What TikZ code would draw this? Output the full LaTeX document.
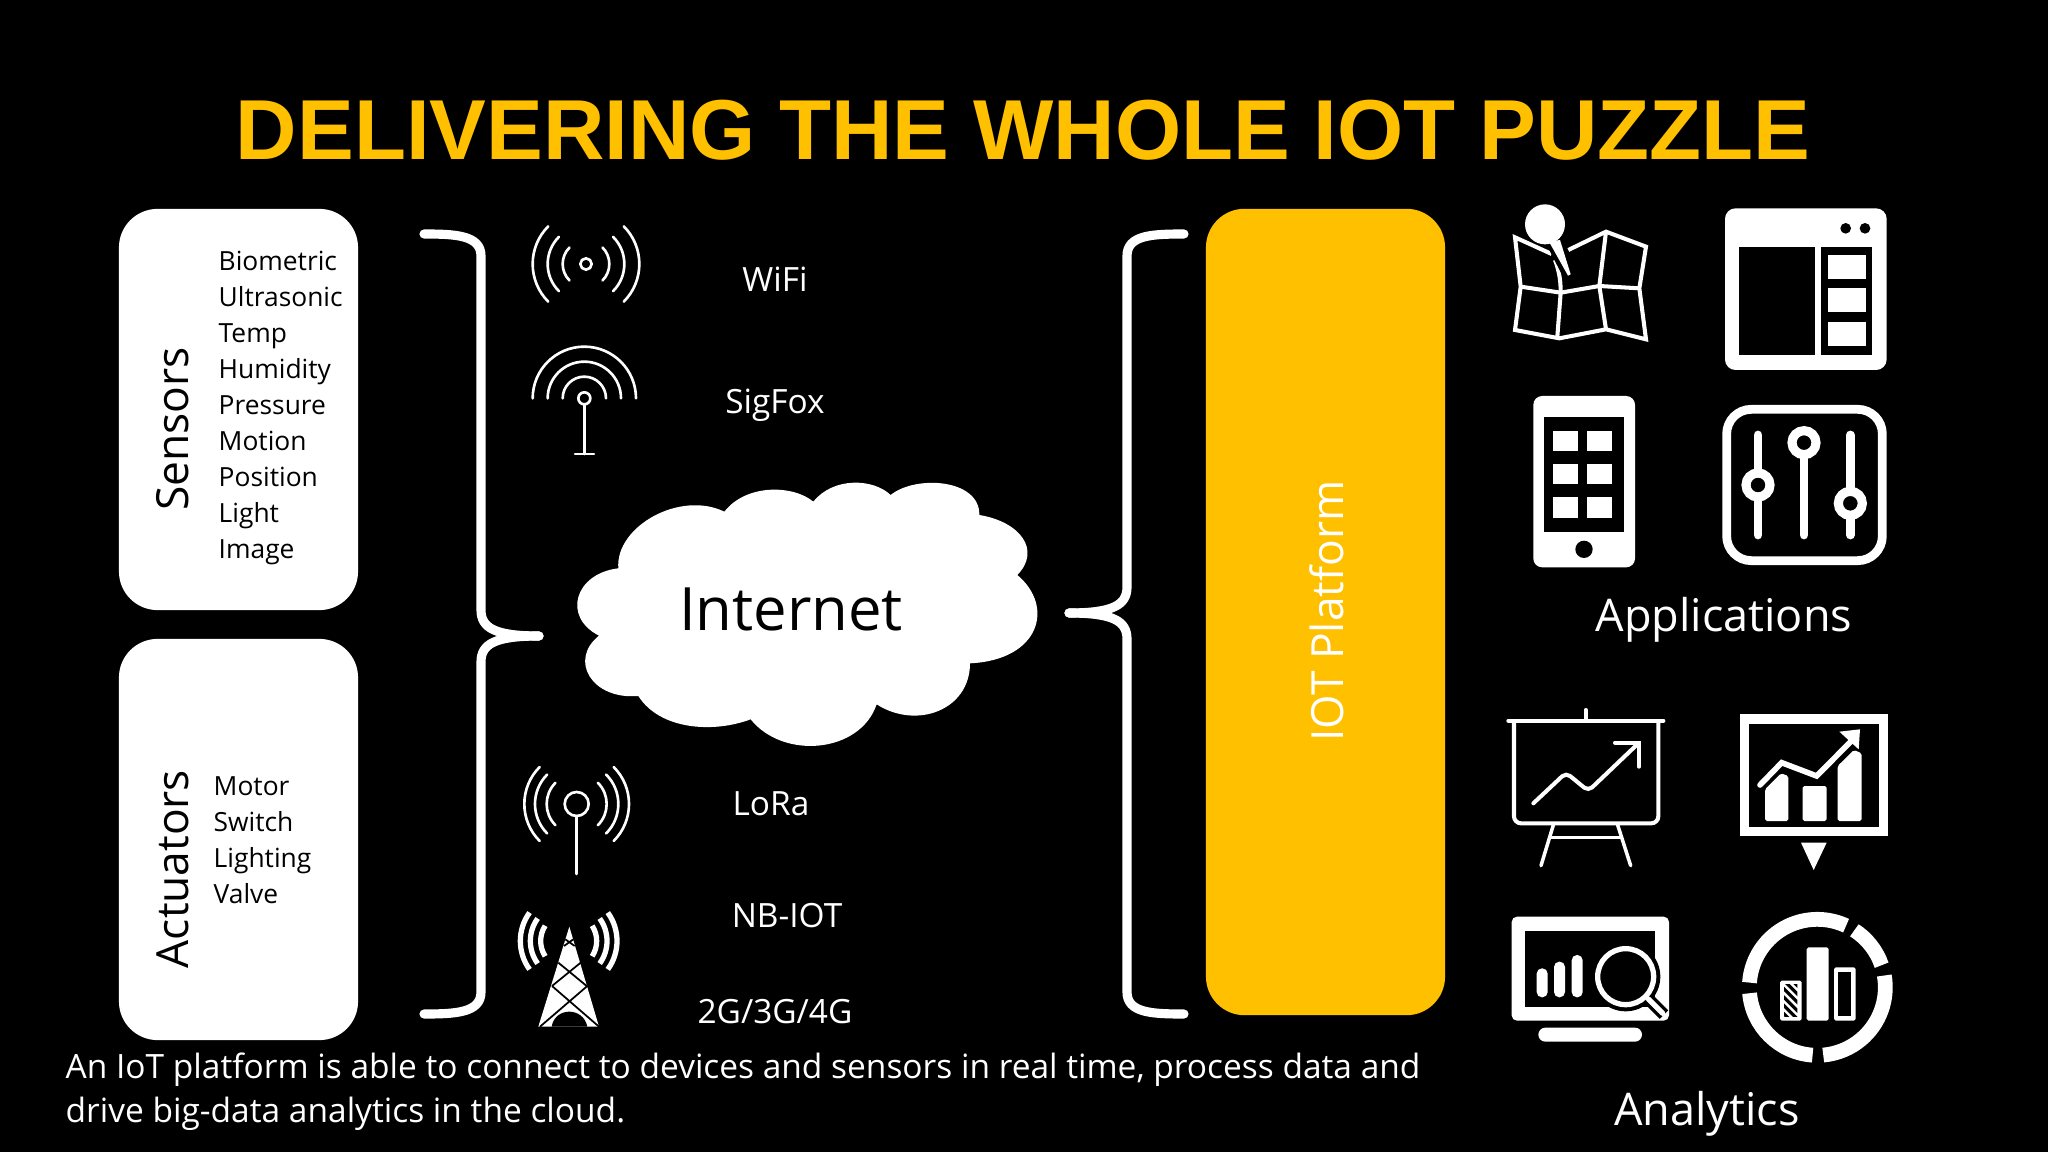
\documentclass[tikz,border=0pt]{standalone}
\usepackage{fontspec}
\setmainfont{Open Sans}
\setsansfont{Liberation Sans}
\usetikzlibrary{positioning}
\definecolor{iotyellow}{HTML}{FFC000}
\tikzstyle{label} = [white,inner sep=0pt,font=\fontsize{9.5}{10}\selectfont]
\tikzstyle{heading} = [white,inner sep=0pt,font=\fontsize{12.8}{14}\selectfont]
\tikzstyle{listing} = [black,inner sep=0pt,align=left,anchor=north west,font=\fontsize{7.5}{10.25}\selectfont]
\tikzstyle{sideways} = [black,inner sep=0pt,rotate=90,font=\fontsize{12.6}{14}\selectfont]
\tikzstyle{block} = [fill=white,rounded corners=11pt,minimum width=2.39cm,minimum height=4.01cm,inner sep=0pt]
\tikzstyle{brace} = [white,line width=2.6pt,line cap=round]
\tikzstyle{thinline} = [white,line width=.75pt,line cap=round]
\tikzstyle{mapline} = [white,line width=1.15pt,line join=miter]
\tikzstyle{upper} = [shift={(1480,180)},scale=1/3]
\tikzstyle{lower} = [shift={(1480,690)},scale=1/3]
\begin{document}
\begin{tikzpicture}[x=.01cm,y=-.01cm]
    \useasboundingbox (0,0) rectangle (2048,1152);
    \fill[black] (0,0) rectangle (2048,1152);

    \node (title)[anchor=base,iotyellow,inner sep=0pt,font=\fontsize{24.2}{26}\selectfont\sffamily\bfseries] at (1023,159.5) {DELIVERING THE WHOLE IOT PUZZLE};

    \node (sensors)[block] at (238.5,409.5) {};
    \node (actuators)[block] at (238.5,839.5) {};
    \node (platform)[block,fill=iotyellow,minimum height=8.06cm] at (1325.5,612) {};

    \node (sensorsname)[sideways] at (173,429) {Sensors};
    \node (actuatorsname)[sideways] at (173,869) {Actuators};
    \node (platformname)[sideways,white] at (1327,611) {IOT Platform};
    \node (sensorlist)[listing] at (218,250) {Biometric\\Ultrasonic\\Temp\\Humidity\\Pressure\\Motion\\Position\\Light\\Image};
    \node (actuatorlist)[listing] at (213,776) {Motor\\Switch\\Lighting\\Valve};

    \coordinate (ltop) at (424,234);
    \coordinate (lbot) at (424,1014);
    \coordinate (ltip) at (539,636);
    \coordinate (rtop) at (1184,234);
    \coordinate (rbot) at (1184,1014);
    \coordinate (rtip) at (1069,613);
    \draw[brace] (ltop) .. controls (455,234) and (481,235) .. (481,256) -- (481,610) .. controls (481,628) and (495,636) .. (ltip);
    \draw[brace] (lbot) .. controls (455,1014) and (481,1013) .. (481,992) -- (481,662) .. controls (481,644) and (495,636) .. (ltip);
    \draw[brace] (rtop) .. controls (1152,234) and (1127,235) .. (1127,256) -- (1127,587) .. controls (1127,605) and (1113,613) .. (rtip);
    \draw[brace] (rbot) .. controls (1152,1014) and (1127,1013) .. (1127,992) -- (1127,639) .. controls (1127,621) and (1113,613) .. (rtip);

    \node (wifi)[label] at (775,279) {WiFi};
    \node (sigfox)[label] at (775,405) {SigFox};
    \node (lora)[label] at (771,804) {LoRa};
    \node (nbiot)[label] at (787,916) {NB-IOT};
    \node (cellular)[label] at (775,1012) {2G/3G/4G};

    \begin{scope}[shift={(540,460)},scale=1/3]
        \fill[white] (235,325) .. controls (225,200) and (420,90) .. (553,155)
            .. controls (620,70) and (760,75) .. (820,125)
            .. controls (880,50) and (1000,55) .. (1052,105)
            .. controls (1125,45) and (1320,55) .. (1318,165)
            .. controls (1440,185) and (1505,270) .. (1432,345)
            .. controls (1545,440) and (1500,600) .. (1290,610)
            .. controls (1290,750) and (1130,810) .. (1010,733)
            .. controls (960,880) and (730,900) .. (632,778)
            .. controls (520,820) and (360,810) .. (295,708)
            .. controls (155,720) and (85,600) .. (177,527)
            .. controls (65,470) and (105,340) .. (235,325) -- cycle;
    \end{scope}
    \node (internet)[inner sep=0pt,black,font=\fontsize{17}{20}\selectfont] at (791,609) {Internet};

    \begin{scope}[shift={(500,200)},scale=1/3]
        \draw[thinline] (258,192) circle[radius=17];
        \foreach \r in {70,115,160} {
            \draw[thinline] ({258-\r*cos(45)},{192-\r*sin(45)}) arc[start angle=-135,end angle=-225,radius=\r];
            \draw[thinline] ({258+\r*cos(45)},{192-\r*sin(45)}) arc[start angle=-45,end angle=45,radius=\r];
        }
        \draw[thinline] (253,595) circle[radius=18];
        \foreach \r in {65,110,155} {
            \draw[thinline] ({253-\r},595) arc[start angle=180,end angle=360,radius=\r];
        }
        \draw[thinline] (253,613) -- (253,762);
        \draw[thinline] (225,762) -- (282,762);
    \end{scope}

    \begin{scope}[shift={(490,740)},scale=1/3]
        \draw[thinline] (260,192) circle[radius=36];
        \draw[thinline] (260,228) -- (260,402);
        \foreach \r in {90,125,157} {
            \draw[thinline] ({260-\r*cos(45)},{192-\r*sin(45)}) arc[start angle=-135,end angle=-225,radius=\r];
            \draw[thinline] ({260+\r*cos(45)},{192-\r*sin(45)}) arc[start angle=-45,end angle=45,radius=\r];
        }
        \fill[white] (238,560) -- (327,860) -- (145,860) -- cycle;
        \fill[black] (185,860) .. controls (195,800) and (280,800) .. (292,860) -- cycle;
        \draw[black,line width=.5pt] (150,860) -- (292,738) (327,860) -- (186,738)
            (186,738) -- (272,668) (290,738) -- (205,668)
            (222,618) -- (250,598) (254,618) -- (226,598);
        \foreach \r/\a in {84/33,115/36,145/36} {
            \draw[white,line width=1.5pt] ({236-\r*cos(\a)},{603-\r*sin(\a)}) arc[start angle=-180+\a,end angle=-180-\a,radius=\r];
            \draw[white,line width=1.5pt] ({236+\r*cos(\a)},{603-\r*sin(\a)}) arc[start angle=-\a,end angle=\a,radius=\r];
        }
    \end{scope}

    \begin{scope}[upper]
        \draw[mapline] (215,222) -- (105,172) -- (122,320) -- (105,450) -- (238,475) -- (378,448) -- (498,478) -- (478,325) -- (498,200) -- (378,155) -- (265,210);
        \draw[mapline] (122,320) -- (242,338) -- (358,318) -- (478,325);
        \draw[mapline] (378,155) -- (358,318) -- (378,448);
        \draw[mapline] (225,240) .. controls (240,280) and (242,310) .. (242,338) -- (232,470);
        \fill[black] (200,195) -- (248,180) -- (282,290) -- (250,292) -- cycle;
        \fill[white] (195,133) circle[radius=60];
        \fill[white] (207,185) -- (240,180) -- (272,283) -- (264,287) -- cycle;

        \fill[white,rounded corners=3pt] (735,85) rectangle (1220,570);
        \foreach \x in {1097,1155} \fill[black] (\x,145) circle[radius=16];
        \fill[black] (778,202) rectangle (1006,526);
        \fill[black] (1023,202) rectangle (1176,526);
        \foreach \y in {225,325,427} \fill[white] (1043,\y) rectangle (1158,\y+72);

        \fill[white,rounded corners=2.5pt] (160,648) rectangle (465,1162);
        \fill[black] (192,711) rectangle (433,1055);
        \foreach \x in {219,321} \foreach \y in {752,851,952} \fill[white] (\x,\y) rectangle (\x+76,\y+61);
        \fill[black] (312,1108) circle[radius=26];

        \draw[white,line width=2.5pt,rounded corners=7pt] (740,688) rectangle (1207,1142);
        \foreach \x/\k in {834/915,972/788,1111/970} {
            \draw[white,line width=2.5pt,line cap=round] (\x,765) -- (\x,1065);
            \fill[black] (\x,\k) circle[radius=36];
            \draw[white,line width=2.6pt] (\x,\k) circle[radius=36];
        }
    \end{scope}

    \node (applications)[heading] at (1724,620) {Applications};

    \begin{scope}[lower]
        \draw[white,line width=1.15pt,line cap=round] (85,92) -- (550,92);
        \draw[white,line width=1.15pt,line cap=round] (317,60) -- (317,92);
        \draw[white,line width=1.15pt,rounded corners=2pt] (102,92) -- (102,400) -- (535,400) -- (535,92);
        \draw[white,line width=1pt,line cap=round] (220,405) -- (183,527) (413,405) -- (452,527);
        \draw[white,line width=1pt] (213,443) -- (420,443);
        \draw[white,line width=1.15pt,line cap=round,rounded corners=1.5pt] (160,340) -- (258,248) -- (325,303) -- (475,160);
        \draw[white,line width=1.15pt,line cap=round] (405,158) -- (477,158) -- (477,230);

        \fill[white] (780,73) rectangle (1225,438);
        \fill[black] (808,102) rectangle (1197,410);
        \fill[white,rounded corners=.5pt] (855,393) -- (855,298) -- (903,250) -- (925,258) -- (925,393) -- cycle;
        \fill[white,rounded corners=.5pt] (968,288) rectangle (1040,393);
        \fill[white,rounded corners=.5pt] (1073,393) -- (1073,228) -- (1122,180) -- (1145,190) -- (1145,393) -- cycle;
        \draw[white,line width=1.6pt,line cap=round,line join=miter] (840,285) -- (905,218) -- (1010,258) -- (1112,155);
        \fill[white] (1078,125) -- (1140,118) -- (1136,178) -- cycle;
        \fill[white] (963,458) -- (1040,458) -- (1001,540) -- cycle;

        \fill[white,rounded corners=1.5pt] (95,680) rectangle (567,992);
        \fill[black] (136,723) rectangle (525,950);
        \fill[white,rounded corners=2pt] (175,1013) rectangle (486,1055);
        \foreach \x/\t in {170/835,222/815,275/795} \fill[white,rounded corners=1.5pt] (\x,\t) rectangle (\x+33,922);
        \fill[black] (437,860) circle[radius=104];
        \draw[black,line width=3.4pt] (505,927) -- (552,974);
        \draw[white,line width=1.5pt] (437,860) circle[radius=84];
        \draw[white,line width=1.5pt,line cap=round] (505,927) -- (548,970);

        \foreach \a/\b in {176/65,57/19,10/-85,-94/-175} {
            \draw[white,line width=4.2pt] ({1012+204*cos(\a)},{892-204*sin(\a)}) arc[start angle=-\a,end angle=-\b,radius=204];
        }
        \fill[white,rounded corners=.5pt] (900,872) rectangle (965,992);
        \begin{scope}
            \clip (912,885) rectangle (952,980);
            \foreach \s in {840,865,...,990} \draw[black,line width=.9pt] (905,\s) -- (965,\s+60);
        \end{scope}
        \fill[white,rounded corners=.5pt] (980,772) rectangle (1046,992);
        \fill[white,rounded corners=.5pt] (1062,832) rectangle (1127,992);
        \fill[black] (1075,846) rectangle (1114,978);
    \end{scope}

    \node (analytics)[heading] at (1707,1114) {Analytics};

    \node (caption)[label,anchor=north west,align=left,font=\fontsize{9.52}{12.6}\selectfont] at (65,1052) {An IoT platform is able to connect to devices and sensors in real time, process data and\\drive big-data analytics in the cloud.};
\end{tikzpicture}
\end{document}
